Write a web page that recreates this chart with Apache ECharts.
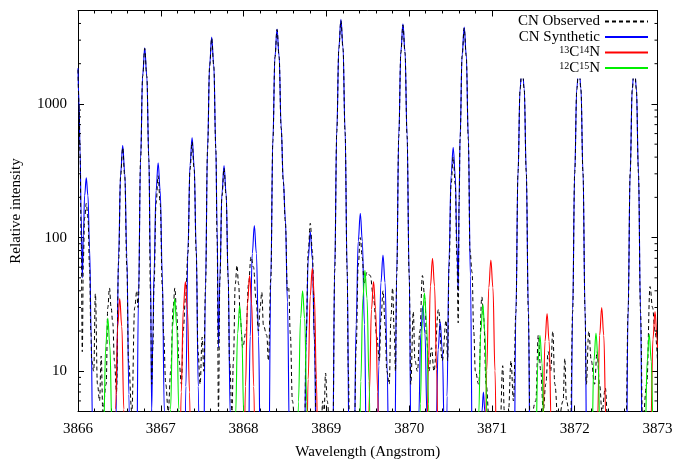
<!DOCTYPE html>
<html>
<head>
<meta charset="utf-8">
<script src="https://cdn.jsdelivr.net/npm/echarts@6/dist/echarts.min.js"></script>
<style>
  html, body { margin: 0; padding: 0; background: #fff; }
  #main { width: 676px; height: 459px; }
</style>
</head>
<body>
<div id="main"></div>
<script>
// wavelength (Angstrom), relative intensity
const observed = [
  [3866.0, 1800], [3866.012, 1000], [3866.025, 420], [3866.038, 100], [3866.052, 14], [3866.065, 70], [3866.08, 140], [3866.1, 180], [3866.12, 140], [3866.14, 60], [3866.155, 20], [3866.165, 12],
  [3866.19, 10], [3866.21, 38], [3866.235, 8], [3866.26, 6], [3866.28, 13], [3866.3, 5],
  [3866.34, 8], [3866.36, 30], [3866.38, 42], [3866.4, 30], [3866.42, 23], [3866.44, 12],
  [3866.465, 7], [3866.49, 65], [3866.515, 290], [3866.54, 470], [3866.565, 285], [3866.59, 60], [3866.61, 12],
  [3866.65, 5], [3866.685, 30], [3866.71, 40], [3866.725, 30],
  [3866.731, 36], [3866.756, 385], [3866.781, 1610], [3866.806, 2600], [3866.831, 1610], [3866.856, 385], [3866.875, 40], [3866.89, 8],
  [3866.905, 15], [3866.918, 43], [3866.943, 180], [3866.968, 290], [3866.993, 180], [3867.018, 43], [3867.035, 18.6], [3867.06, 8], [3867.09, 5], [3867.12, 10],
  [3867.15, 30], [3867.17, 42], [3867.19, 28], [3867.22, 12], [3867.25, 8], [3867.27, 20], [3867.3, 36],
  [3867.328, 77], [3867.353, 322], [3867.378, 520], [3867.403, 322], [3867.428, 77], [3867.45, 14], [3867.475, 8], [3867.5, 18], [3867.52, 10],
  [3867.54, 42], [3867.565, 459], [3867.59, 1922], [3867.615, 3100], [3867.64, 1922], [3867.665, 459], [3867.68, 100], [3867.697, 5],
  [3867.714, 49], [3867.739, 205], [3867.764, 330], [3867.789, 205], [3867.814, 49], [3867.83, 12], [3867.86, 5],
  [3867.877, 12], [3867.9, 45], [3867.92, 62], [3867.94, 45], [3867.96, 25], [3867.99, 15], [3868.03, 20], [3868.06, 45], [3868.09, 72], [3868.12, 60], [3868.15, 35], [3868.18, 20], [3868.2, 30], [3868.22, 39], [3868.24, 22], [3868.28, 18.6], [3868.3, 12],
  [3868.329, 49], [3868.354, 530], [3868.379, 2230], [3868.404, 3600], [3868.429, 2260], [3868.454, 660], [3868.48, 260], [3868.505, 130], [3868.53, 40], [3868.545, 42], [3868.565, 19], [3868.59, 6], [3868.63, 3],
  [3868.735, 3], [3868.756, 19], [3868.781, 79], [3868.806, 128], [3868.831, 79], [3868.856, 19], [3868.88, 3],
  [3868.94, 4], [3868.955, 6], [3868.97, 4], [3868.99, 9.7], [3869.01, 6], [3869.05, 3],
  [3869.08, 4], [3869.101, 57], [3869.126, 620], [3869.151, 2600], [3869.176, 4200], [3869.201, 2600], [3869.226, 620], [3869.251, 57], [3869.265, 10], [3869.28, 4],
  [3869.34, 4], [3869.36, 15], [3869.385, 62], [3869.41, 100], [3869.435, 70], [3869.455, 45], [3869.49, 55], [3869.53, 52], [3869.57, 35], [3869.61, 18], [3869.64, 12],
  [3869.66, 25], [3869.685, 40], [3869.71, 22], [3869.73, 10], [3869.76, 8], [3869.78, 25], [3869.8, 42], [3869.82, 20], [3869.835, 10],
  [3869.85, 53], [3869.875, 577], [3869.9, 2420], [3869.925, 3900], [3869.95, 2420], [3869.975, 577], [3870.0, 53], [3870.02, 8],
  [3870.05, 28], [3870.07, 12], [3870.1, 10], [3870.13, 20], [3870.16, 52], [3870.19, 35], [3870.21, 18], [3870.24, 10], [3870.27, 15], [3870.3, 10], [3870.354, 29], [3870.4, 12], [3870.447, 24],
  [3870.465, 12], [3870.482, 60], [3870.507, 250], [3870.532, 400], [3870.557, 250], [3870.577, 70], [3870.593, 23], [3870.604, 190], [3870.615, 545], [3870.64, 2280], [3870.665, 3700], [3870.69, 2280], [3870.715, 545], [3870.735, 80], [3870.76, 55], [3870.78, 20], [3870.8, 10],
  [3870.84, 8], [3870.878, 36], [3870.9, 25], [3870.93, 8], [3870.97, 4],
  [3871.1, 4], [3871.13, 11], [3871.15, 5], [3871.2, 5], [3871.23, 12], [3871.26, 6],
  [3871.29, 28], [3871.315, 305], [3871.34, 1280], [3871.365, 2060], [3871.39, 1280], [3871.415, 305], [3871.44, 28], [3871.46, 4],
  [3871.53, 6], [3871.56, 18.6], [3871.59, 10], [3871.62, 5], [3871.65, 8], [3871.68, 14], [3871.71, 10], [3871.735, 20], [3871.76, 8], [3871.8, 4], [3871.86, 6], [3871.88, 12.5], [3871.9, 6], [3871.95, 4],
  [3871.975, 28], [3872.0, 305], [3872.025, 1280], [3872.05, 2060], [3872.075, 1280], [3872.1, 305], [3872.125, 28], [3872.14, 8],
  [3872.17, 20], [3872.2, 12], [3872.24, 8], [3872.27, 14], [3872.3, 8], [3872.33, 5], [3872.37, 7.5], [3872.4, 4],
  [3872.62, 4], [3872.645, 28], [3872.67, 305], [3872.695, 1280], [3872.72, 2060], [3872.745, 1280], [3872.77, 305], [3872.795, 28], [3872.82, 4],
  [3872.87, 8], [3872.91, 43], [3872.94, 30], [3872.97, 20], [3873.0, 12]
];

const synthetic = [
  [3866.0, 1850], [3866.012, 1050], [3866.025, 450], [3866.038, 150], [3866.052, 50], [3866.065, 105], [3866.08, 206], [3866.1, 280], [3866.12, 206], [3866.14, 83], [3866.16, 18], [3866.175, 3.8], [3866.2, 0.2],
  [3866.44, 0.24], [3866.465, 6.7], [3866.49, 72.5], [3866.515, 304], [3866.54, 490], [3866.565, 304], [3866.59, 72.5], [3866.615, 6.7], [3866.64, 0.24],
  [3866.706, 1.3], [3866.731, 36], [3866.756, 389], [3866.781, 1631], [3866.806, 2630], [3866.831, 1631], [3866.856, 389], [3866.875, 60], [3866.89, 5],
  [3866.905, 20], [3866.918, 53.7], [3866.943, 225], [3866.968, 363], [3866.993, 225], [3867.018, 53.7], [3867.043, 5.0], [3867.068, 0.18],
  [3867.278, 0.28], [3867.303, 7.7], [3867.328, 83], [3867.353, 347], [3867.378, 560], [3867.403, 347], [3867.428, 83], [3867.453, 7.7], [3867.478, 0.28],
  [3867.515, 1.5], [3867.54, 43], [3867.565, 468], [3867.59, 1959], [3867.615, 3160], [3867.64, 1959], [3867.665, 468], [3867.68, 120], [3867.697, 15],
  [3867.714, 51], [3867.739, 215], [3867.764, 346], [3867.789, 215], [3867.814, 51], [3867.839, 4.7], [3867.864, 0.17],
  [3868.055, 1.7], [3868.08, 18.2], [3868.105, 76], [3868.13, 123], [3868.155, 76], [3868.18, 18.2], [3868.205, 1.7],
  [3868.304, 1.8], [3868.329, 50], [3868.354, 539], [3868.379, 2257], [3868.404, 3640], [3868.429, 2290], [3868.454, 675], [3868.48, 267], [3868.505, 138], [3868.53, 33], [3868.555, 3], [3868.58, 0.1],
  [3868.731, 1.5], [3868.756, 16.4], [3868.781, 69], [3868.806, 111], [3868.831, 69], [3868.856, 16.4], [3868.881, 1.5],
  [3869.076, 2.1], [3869.101, 58.8], [3869.126, 635], [3869.151, 2660], [3869.176, 4290], [3869.201, 2660], [3869.226, 635], [3869.251, 58.8], [3869.276, 2.1],
  [3869.335, 2.1], [3869.36, 22.5], [3869.385, 94], [3869.41, 152], [3869.435, 94], [3869.46, 22.5], [3869.485, 2.1],
  [3869.609, 1], [3869.634, 11], [3869.659, 46], [3869.684, 74], [3869.709, 46], [3869.734, 11], [3869.759, 1],
  [3869.825, 2], [3869.85, 54.5], [3869.875, 589], [3869.9, 2468], [3869.925, 3980], [3869.95, 2468], [3869.975, 589], [3870.0, 54.5], [3870.025, 2],
  [3870.091, 0.4], [3870.116, 4.6], [3870.141, 19.2], [3870.166, 31], [3870.191, 19.2], [3870.216, 4.6], [3870.241, 0.4],
  [3870.3, 0.3], [3870.325, 3.5], [3870.35, 14.5], [3870.375, 23.4], [3870.4, 14.5], [3870.425, 3.5], [3870.45, 0.3],
  [3870.457, 6.5], [3870.482, 70], [3870.507, 293], [3870.532, 473], [3870.557, 293], [3870.577, 90], [3870.593, 40],
  [3870.604, 200], [3870.615, 556], [3870.64, 2331], [3870.665, 3760], [3870.69, 2331], [3870.715, 556], [3870.74, 51.5], [3870.765, 1.9],
  [3870.86, 1.5], [3870.88, 5], [3870.897, 7], [3870.915, 5], [3870.935, 1.5],
  [3871.265, 1], [3871.29, 28.8], [3871.315, 311], [3871.34, 1302], [3871.365, 2100], [3871.39, 1302], [3871.415, 311], [3871.44, 28.8], [3871.465, 1],
  [3871.95, 1], [3871.975, 28.8], [3872.0, 311], [3872.025, 1302], [3872.05, 2100], [3872.075, 1302], [3872.1, 311], [3872.125, 28.8], [3872.15, 1],
  [3872.62, 1], [3872.645, 28.8], [3872.67, 311], [3872.695, 1302], [3872.72, 2100], [3872.745, 1302], [3872.77, 311], [3872.795, 28.8], [3872.82, 1],
  [3873.0, 0.3]
];

const c13n14 = [
  [3866.429, 0.48], [3866.454, 5.2], [3866.479, 21.7], [3866.504, 35], [3866.529, 21.7], [3866.554, 5.2], [3866.579, 0.48],
  [3867.222, 0.64], [3867.247, 7.0], [3867.272, 29.1], [3867.297, 47], [3867.322, 29.1], [3867.347, 7.0], [3867.372, 0.64],
  [3867.998, 0.71], [3868.023, 7.7], [3868.048, 32.2], [3868.073, 52], [3868.098, 32.2], [3868.123, 7.7], [3868.148, 0.71],
  [3868.755, 0.81], [3868.78, 8.7], [3868.805, 36.6], [3868.83, 59], [3868.855, 36.6], [3868.88, 8.7], [3868.905, 0.81],
  [3869.495, 0.64], [3869.52, 7.0], [3869.545, 29.1], [3869.57, 47], [3869.595, 29.1], [3869.62, 7.0], [3869.645, 0.64],
  [3870.207, 0.96], [3870.232, 10.4], [3870.257, 43.4], [3870.282, 70], [3870.307, 43.4], [3870.332, 10.4], [3870.357, 0.96],
  [3870.912, 0.93], [3870.937, 10.1], [3870.962, 42.2], [3870.987, 68], [3871.012, 42.2], [3871.037, 10.1], [3871.062, 0.93],
  [3871.591, 0.37], [3871.616, 4.0], [3871.641, 16.7], [3871.666, 27], [3871.691, 16.7], [3871.716, 4.0], [3871.741, 0.37],
  [3872.251, 0.41], [3872.276, 4.4], [3872.301, 18.6], [3872.326, 30], [3872.351, 18.6], [3872.376, 4.4], [3872.401, 0.41],
  [3872.895, 0.38], [3872.92, 4.1], [3872.945, 17.4], [3872.97, 28], [3872.995, 17.4], [3873.0, 15]
];

const c12n15 = [
  [3866.285, 0.34], [3866.31, 3.7], [3866.335, 15.5], [3866.36, 25], [3866.385, 15.5], [3866.41, 3.7], [3866.435, 0.34],
  [3867.093, 0.48], [3867.118, 5.2], [3867.143, 21.7], [3867.168, 35], [3867.193, 21.7], [3867.218, 5.2], [3867.243, 0.48],
  [3867.878, 0.42], [3867.903, 4.6], [3867.928, 19.2], [3867.953, 31], [3867.978, 19.2], [3868.003, 4.6], [3868.028, 0.42],
  [3868.638, 0.55], [3868.663, 5.9], [3868.688, 24.8], [3868.713, 40], [3868.738, 24.8], [3868.763, 5.9], [3868.788, 0.55],
  [3869.391, 0.78], [3869.416, 8.4], [3869.441, 35.3], [3869.466, 57], [3869.491, 35.3], [3869.516, 8.4], [3869.541, 0.78],
  [3870.11, 0.53], [3870.135, 5.7], [3870.16, 23.9], [3870.185, 38.5], [3870.21, 23.9], [3870.235, 5.7], [3870.26, 0.53],
  [3870.815, 0.43], [3870.84, 4.7], [3870.865, 19.6], [3870.89, 31.6], [3870.915, 19.6], [3870.94, 4.7], [3870.965, 0.43],
  [3871.505, 0.25], [3871.53, 2.8], [3871.555, 11.5], [3871.58, 18.6], [3871.605, 11.5], [3871.63, 2.8], [3871.655, 0.25],
  [3872.182, 0.26], [3872.207, 2.9], [3872.232, 12.0], [3872.257, 19.3], [3872.282, 12.0], [3872.307, 2.9], [3872.332, 0.26],
  [3872.825, 0.26], [3872.85, 2.8], [3872.875, 11.8], [3872.9, 19], [3872.925, 11.8], [3872.95, 2.8], [3872.975, 0.26]
];

const yMinorTicks = [6, 7, 8, 9, 20, 30, 40, 50, 60, 70, 80, 90, 200, 300, 400, 500, 600, 700, 800, 900, 2000, 3000, 4000];

const serif = 'Liberation Serif';

const chart = echarts.init(document.getElementById('main'));

const xAxisBase = {
  type: 'value',
  min: 3866,
  max: 3873,
  interval: 1,
  axisLine: { lineStyle: { color: '#000', width: 1 } },
  axisTick: { inside: true, length: 6, lineStyle: { color: '#000' } },
  minorTick: { show: true, splitNumber: 5, length: 3, lineStyle: { color: '#000' } },
  splitLine: { show: false }
};
const yAxisBase = {
  type: 'log',
  logBase: 10,
  min: 5,
  max: 5000,
  axisLine: { lineStyle: { color: '#000', width: 1 } },
  axisTick: { inside: true, length: 6, lineStyle: { color: '#000' } },
  splitLine: { show: false }
};

const lineSeries = (name, data, color, extra) => Object.assign({
  name: name,
  type: 'line',
  data: data,
  symbol: 'none',
  smooth: 0.4,
  smoothMonotone: 'x',
  lineStyle: { color: color, width: 1.1 },
  itemStyle: { color: color },
  z: 3
}, extra || {});

chart.setOption({
  animation: false,
  backgroundColor: '#fff',
  grid: { left: 78, right: 18.5, top: 10.5, bottom: 47.5, outerBoundsMode: 'none', containLabel: false },
  legend: {
    data: ['CN Observed', 'CN Synthetic', '13C14N', '12C15N'],
    orient: 'vertical',
    align: 'right',
    right: 20,
    top: 11,
    padding: [3, 7, 3, 10],
    itemWidth: 43,
    itemHeight: 14,
    itemGap: 0.5,
    backgroundColor: '#fff',
    selectedMode: false,
    itemStyle: { opacity: 0 },
    textStyle: {
      fontFamily: serif,
      fontSize: 15,
      color: '#000',
      lineHeight: 14,
      rich: {
        sup: { fontFamily: serif, fontSize: 10, lineHeight: 1, verticalAlign: 'top', color: '#000' }
      }
    },
    formatter: (name) => {
      if (name === '13C14N') return '{sup|13}C{sup|14}N';
      if (name === '12C15N') return '{sup|12}C{sup|15}N';
      return name;
    }
  },
  xAxis: [
    Object.assign({}, xAxisBase, {
      position: 'bottom',
      axisLabel: { color: '#000', fontFamily: serif, fontSize: 15, margin: 10, formatter: (v) => String(v) },
      name: 'Wavelength (Angstrom)',
      nameLocation: 'middle',
      nameGap: 33,
      nameTextStyle: { color: '#000', fontFamily: serif, fontSize: 15 }
    }),
    Object.assign({}, xAxisBase, { position: 'top', axisLabel: { show: false } })
  ],
  yAxis: [
    Object.assign({}, yAxisBase, {
      position: 'left',
      axisLabel: {
        color: '#000', fontFamily: serif, fontSize: 15, margin: 11,
        showMinLabel: false, showMaxLabel: false,
        formatter: (v) => String(Math.round(v))
      },
      name: 'Relative intensity',
      nameLocation: 'middle',
      nameGap: 54,
      nameTextStyle: { color: '#000', fontFamily: serif, fontSize: 15 }
    }),
    Object.assign({}, yAxisBase, { position: 'right', axisLabel: { show: false } })
  ],
  series: [
    lineSeries('CN Synthetic', synthetic, '#0000ff', { z: 2 }),
    lineSeries('CN Observed', observed, '#000000', { lineStyle: { color: '#000', width: 1, type: [4, 3] } }),
    lineSeries('13C14N', c13n14, '#ff0000'),
    lineSeries('12C15N', c12n15, '#00ee00'),
    {
      name: 'yMinor',
      type: 'custom',
      silent: true,
      clip: false,
      z: 5,
      data: yMinorTicks.map(v => [3866, v]),
      renderItem: (params, api) => {
        const v = api.value(1);
        const l = api.coord([3866, v]);
        const r = api.coord([3873, v]);
        const st = { stroke: '#000', lineWidth: 1 };
        return {
          type: 'group',
          children: [
            { type: 'line', shape: { x1: l[0], y1: l[1], x2: l[0] + 3, y2: l[1] }, style: st },
            { type: 'line', shape: { x1: r[0] - 3, y1: r[1], x2: r[0], y2: r[1] }, style: st }
          ]
        };
      }
    }
  ]
});
</script>
</body>
</html>
